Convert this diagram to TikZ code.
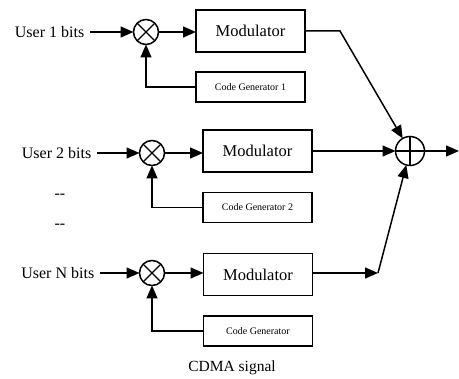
\documentclass[tikz,border=0pt]{standalone}
\usepackage{fontspec}
\setmainfont{Liberation Serif}
\usetikzlibrary{arrows.meta,calc}
\begin{document}
\begin{tikzpicture}[x=1pt,y=-1pt,
  line width=1.5pt,
  arr/.style={-{Triangle[length=13pt,width=11pt]}},
  lbl/.style={font=\fontsize{16}{18}\selectfont, inner sep=0pt},
  modbox/.style={draw, minimum width=109pt, minimum height=42pt, inner sep=0pt,
    outer sep=0pt, font=\fontsize{16.5}{18}\selectfont},
  genbox/.style={draw, minimum width=109pt, minimum height=30pt, inner sep=0pt,
    outer sep=0pt, font=\fontsize{10}{12}\selectfont},
  mixer/.style={draw, circle, minimum size=25pt, inner sep=0pt, outer sep=0pt},
  adder/.style={draw, circle, minimum size=29pt, inner sep=0pt, outer sep=0pt}]
\useasboundingbox (0,0) rectangle (459,379);

% user 1 branch
\node[lbl, anchor=east] (u1) at (85,32) {User 1 bits};
\node[mixer] (m1) at (146,32) {};
\node[modbox] (mod1) at (250.5,31) {Modulator};
\node[genbox] (cg1) at (250.5,87) {Code Generator 1};

% user 2 branch
\node[lbl, anchor=east] (u2) at (92,153) {User 2 bits};
\node[mixer] (m2) at (152,153) {};
\node[modbox] (mod2) at (257.5,151) {Modulator};
\node[genbox] (cg2) at (257.5,207.5) {Code Generator 2};

% ellipsis between branches
\node[lbl] (d1) at (60,196) {-{}-};
\node[lbl] (d2) at (60,226) {-{}-};

% user N branch
\node[lbl, anchor=east] (uN) at (95,273) {User N bits};
\node[mixer] (mN) at (152,273) {};
\node[modbox] (modN) at (258,274.5) {Modulator};
\node[genbox] (cgN) at (258,331) {Code Generator};

% summing junction and output
\node[adder] (sum) at (410,151) {};
\coordinate (out) at (459,151);
\coordinate (c1) at (340,31);
\coordinate (cN) at (378,273);

\node[lbl, font=\fontsize{15.5}{18}\selectfont] (cap) at (232,368) {CDMA signal};

% mixer crosses and adder plus
\foreach \m in {m1,m2,mN}{
  \draw[line width=1.1pt] (\m.north west) -- (\m.south east)
        (\m.north east) -- (\m.south west);
}
\draw[line width=1.1pt] (sum.north) -- (sum.south) (sum.west) -- (sum.east);

% connectors
\foreach \u/\m/\mo/\g in {u1/m1/mod1/cg1, u2/m2/mod2/cg2, uN/mN/modN/cgN}{
  \draw[arr] ([xshift=5pt]\u.east) -- (\m.west);
  \draw[arr] (\m.east) -- (\m.east -| \mo.west);
  \draw[arr] (\g.west) -| (\m.south);
}
\draw[arr] (mod1.east) -- (c1) -- (sum);
\draw[arr] (mod2.east) -- (sum.west);
\draw[arr] (modN.east |- cN) -- (cN);
\draw[arr] (cN) -- (sum);
\draw[arr] (sum.east) -- (out);
\end{tikzpicture}
\end{document}
